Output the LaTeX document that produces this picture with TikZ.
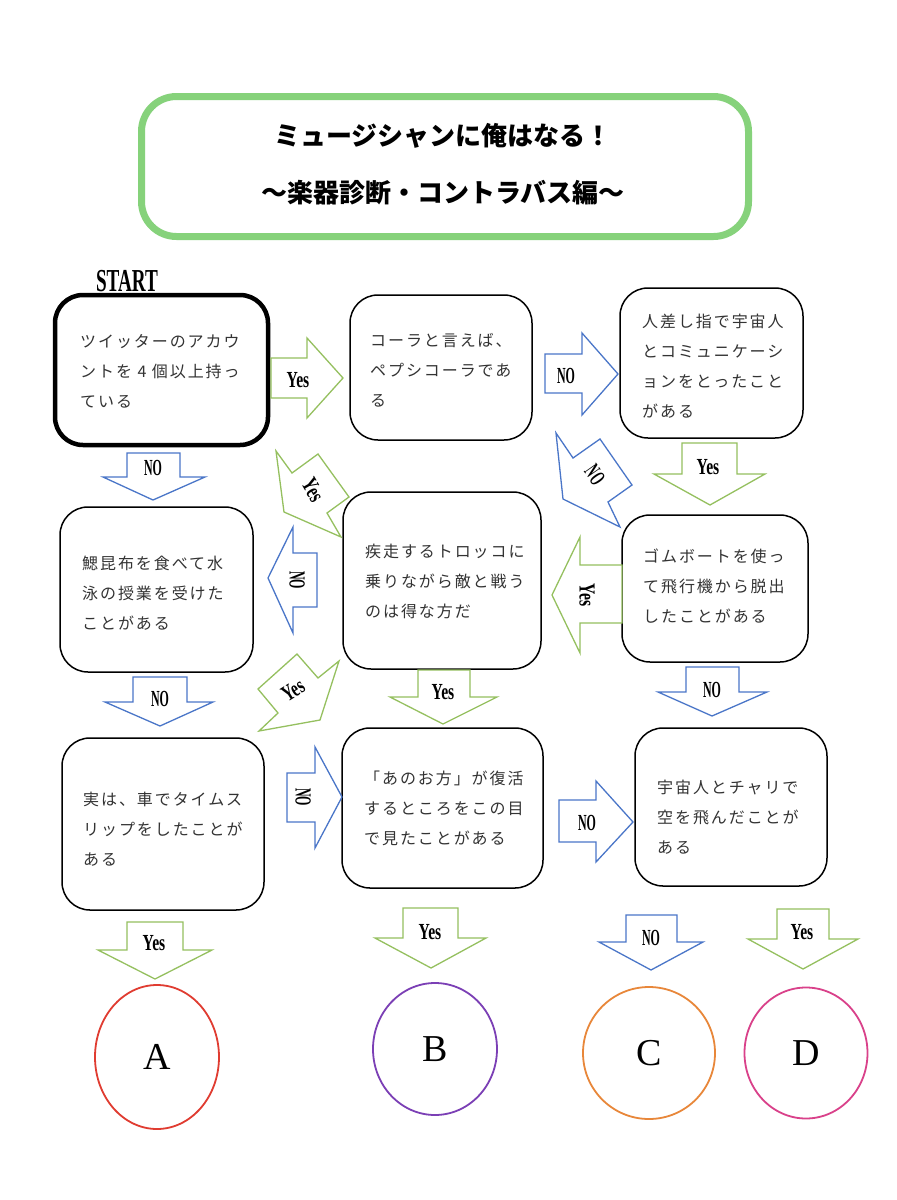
\documentclass[tikz,border=0pt]{standalone}
\usepackage{fontspec}
\usepackage{graphicx}
\usetikzlibrary{shapes.geometric}
\newfontfamily\jp{Noto Sans CJK JP}[LetterSpace=12]
\newfontfamily\jpt{Noto Sans CJK JP}
\newfontfamily\labfont{Liberation Serif}
\definecolor{tgreen}{HTML}{86D27B}
\definecolor{agreen}{HTML}{95C05F}
\definecolor{ablue}{HTML}{4A76C8}
\definecolor{txtgray}{HTML}{333333}
\definecolor{cA}{HTML}{E03C31}
\definecolor{cB}{HTML}{7B3FB5}
\definecolor{cC}{HTML}{E8873A}
\definecolor{cD}{HTML}{D9418A}
\newcommand\cyes{\scalebox{0.68}[1]{\labfont\bfseries\fontsize{23}{23}\selectfont Yes}}
\newcommand\cno{\scalebox{0.52}[1]{\labfont\bfseries\fontsize{23}{23}\selectfont NO}}
\tikzset{
  qbox/.style={draw=black, line width=1.5pt, rounded corners=28pt},
  qtext/.style={anchor=west, align=left, inner sep=0pt,
    font=\jp\fontsize{16}{30}\selectfont, text=txtgray},
  yarrow/.style={draw=agreen, line width=1.3pt, fill=white},
  narrow/.style={draw=ablue, line width=1.3pt, fill=white},
  lab/.style={inner sep=0pt},
  endc/.style={ellipse, line width=1.8pt, font=\labfont\fontsize{38}{38}\selectfont}
}
\begin{document}
\begin{tikzpicture}[x=1pt,y=-1pt]
\useasboundingbox (0,0) rectangle (897,1200);
\fill[white] (0,0) rectangle (897,1200);

% title
\node[draw=tgreen, line width=7pt, rounded corners=35pt, minimum width=607pt, minimum height=140pt] (title) at (445,166.5) {};
\node[font=\jpt\bfseries\fontsize{26}{26}\selectfont] (t1) at (443,136) {ミュージシャンに俺はなる！};
\node[font=\jpt\bfseries\fontsize{26}{26}\selectfont] (t2) at (443,193) {～楽器診断・コントラバス編～};

\node[lab] (start) at (127,281) {\scalebox{0.6}[1]{\labfont\bfseries\fontsize{32}{32}\selectfont START}};

% boxes
\node[qbox, line width=4.5pt, minimum width=213pt, minimum height=150pt] (b1) at (161.5,370) {};
\node[qtext] (b1t) at (80,371) {ツイッターのアカウ\\ントを 4 個以上持っ\\ている};
\node[qbox, minimum width=182pt, minimum height=145pt] (b2) at (441,367.5) {};
\node[qtext] (b2t) at (370,370) {コーラと言えば、\\ペプシコーラであ\\る};
\node[qbox, minimum width=183pt, minimum height=150pt] (b3) at (711.5,363) {};
\node[qtext] (b3t) at (642,366) {人差し指で宇宙人\\とコミュニケーシ\\ョンをとったこと\\がある};
\node[qbox, minimum width=193pt, minimum height=165pt] (b4) at (156.5,589.5) {};
\node[qtext] (b4t) at (82,593) {鰓昆布を食べて水\\泳の授業を受けた\\ことがある};
\node[qbox, minimum width=198pt, minimum height=177pt] (b5) at (442,580.5) {};
\node[qtext] (b5t) at (365,581) {疾走するトロッコに\\乗りながら敵と戦う\\のは得な方だ};
\node[qbox, minimum width=186pt, minimum height=147pt] (b6) at (715,588.5) {};
\node[qtext] (b6t) at (643,586) {ゴムボートを使っ\\て飛行機から脱出\\したことがある};
\node[qbox, minimum width=202pt, minimum height=172pt] (b7) at (163,824) {};
\node[qtext] (b7t) at (83,829) {実は、車でタイムス\\リップをしたことが\\ある};
\node[qbox, minimum width=201pt, minimum height=160pt] (b8) at (442.5,808) {};
\node[qtext] (b8t) at (364,808) {「あのお方」が復活\\するところをこの目\\で見たことがある};
\node[qbox, minimum width=192pt, minimum height=158pt] (b9) at (731,807) {};
\node[qtext] (b9t) at (657,817) {宇宙人とチャリで\\空を飛んだことが\\ある};

% block arrows
\draw[yarrow] (271,358) -- (307,358) -- (307,338) -- (343,378) -- (307,418) -- (307,398) -- (271,398) -- cycle;
\node[lab] (l1) at (298,380) {\cyes};
\draw[narrow] (545,354) -- (582,354) -- (582,333) -- (618,374) -- (582,415) -- (582,393) -- (545,393) -- cycle;
\node[lab] (l2) at (566,376) {\cno};
\draw[yarrow] (682,443) -- (737,443) -- (737,474) -- (765,474) -- (710,505) -- (654,474) -- (682,474) -- cycle;
\node[lab] (l3) at (708,467) {\cyes};
\draw[narrow] (556,433) -- (573,458) -- (600,439) -- (632,485) -- (608,502) -- (620,527) -- (563,499) -- cycle;
\node[lab, rotate=-55] (l4) at (595,475) {\cno};
\draw[narrow] (127,453) -- (180,453) -- (180,477) -- (205,477) -- (153,500) -- (103,477) -- (127,477) -- cycle;
\node[lab] (l5) at (153,468) {\cno};
\draw[yarrow] (276,451) -- (292,473) -- (318,454) -- (349,497) -- (327,513) -- (341,537) -- (284,512) -- cycle;
\node[lab, rotate=-60] (l6) at (313,490) {\cyes};
\draw[narrow] (268,578) -- (293,527) -- (293,553) -- (317,553) -- (317,607) -- (293,607) -- (293,633) -- cycle;
\node[lab, rotate=-90] (l7) at (297,580) {\cno};
\draw[yarrow] (552,595) -- (580,537) -- (580,565) -- (622,565) -- (622,623) -- (580,623) -- (580,653) -- cycle;
\node[lab, rotate=-90] (l8) at (587,595) {\cyes};
\draw[yarrow] (418,670) -- (470,670) -- (470,697) -- (497,697) -- (443,724) -- (390,697) -- (418,697) -- cycle;
\node[lab] (l9) at (443,692) {\cyes};
\draw[narrow] (133,677) -- (187,677) -- (187,702) -- (213,702) -- (160,726) -- (105,702) -- (133,702) -- cycle;
\node[lab] (l10) at (160,699) {\cno};
\draw[yarrow] (258,689) -- (297,654) -- (318,678) -- (339,661) -- (320,720) -- (259,731) -- (278,713) -- cycle;
\node[lab, rotate=32] (l11) at (293,690) {\cyes};
\draw[narrow] (287,773) -- (315,773) -- (315,747) -- (342,797) -- (315,848) -- (315,822) -- (287,822) -- cycle;
\node[lab, rotate=-90] (l12) at (303,797) {\cno};
\draw[narrow] (559,800) -- (596,800) -- (596,781) -- (633,822) -- (596,862) -- (596,842) -- (559,842) -- cycle;
\node[lab] (l13) at (587,823) {\cno};
\draw[narrow] (686,667) -- (739,667) -- (739,692) -- (767,692) -- (712,716) -- (658,692) -- (686,692) -- cycle;
\node[lab] (l14) at (712,690) {\cno};
\draw[yarrow] (127,922) -- (183,922) -- (183,950) -- (212,950) -- (155,979) -- (98,950) -- (127,950) -- cycle;
\node[lab] (l15) at (154,943) {\cyes};
\draw[yarrow] (403,908) -- (458,908) -- (458,938) -- (486,938) -- (431,968) -- (375,938) -- (403,938) -- cycle;
\node[lab] (l16) at (430,932) {\cyes};
\draw[narrow] (626,915) -- (677,915) -- (677,942) -- (703,942) -- (651,970) -- (599,942) -- (626,942) -- cycle;
\node[lab] (l17) at (651,938) {\cno};
\draw[yarrow] (777,909) -- (829,909) -- (829,939) -- (858,939) -- (803,969) -- (748,939) -- (777,939) -- cycle;
\node[lab] (l18) at (802,932) {\cyes};

% end circles
\node[endc, draw=cA, minimum width=124pt, minimum height=144pt] (A) at (157,1057) {A};
\node[endc, draw=cB, minimum width=124pt, minimum height=132pt] (B) at (435,1049) {B};
\node[endc, draw=cC, minimum width=132pt, minimum height=132pt] (C) at (649,1053) {C};
\node[endc, draw=cD, minimum width=123pt, minimum height=131pt] (D) at (806,1053) {D};
\end{tikzpicture}
\end{document}
